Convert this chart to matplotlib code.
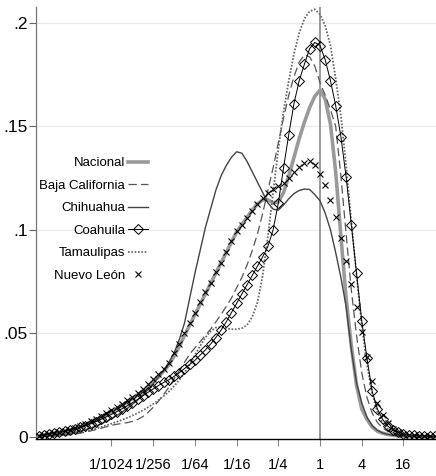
import numpy as np
import matplotlib
matplotlib.use("Agg")
import matplotlib.pyplot as plt

plt.rcParams['font.family'] = ['Liberation Sans', 'DejaVu Sans']
plt.rcParams['lines.scale_dashes'] = False

# evaluation grid, log2 of the ratio
lx = np.arange(-13.5, 5.51, 0.25)

nacional = [0.0005, 0.0009, 0.0013, 0.0018, 0.0023, 0.0028, 0.0033, 0.0040, 0.0048, 0.0058,
            0.0069, 0.0082, 0.0095, 0.0108, 0.0122, 0.0137, 0.0152, 0.0168, 0.0185, 0.0203,
            0.0222, 0.0243, 0.0266, 0.0290, 0.0318, 0.0347, 0.0390, 0.0437, 0.0490, 0.0540,
            0.0590, 0.0640, 0.0690, 0.0740, 0.0790, 0.0840, 0.0890, 0.0940, 0.0990, 0.1025,
            0.1060, 0.1095, 0.1125, 0.1145, 0.1145, 0.1130, 0.1135, 0.1180, 0.1260, 0.1350,
            0.1440, 0.1520, 0.1590, 0.1645, 0.1675, 0.1630, 0.1510, 0.1280, 0.0970, 0.0670,
            0.0440, 0.0250, 0.0135, 0.0085, 0.0048, 0.0028, 0.0018, 0.0012, 0.0008, 0.0006,
            0.0004, 0.0003, 0.0003, 0.0002, 0.0002, 0.0002, 0.0002]

baja = [0.0001, 0.0002, 0.0003, 0.0004, 0.0006, 0.0008, 0.0011, 0.0014, 0.0018, 0.0023,
        0.0029, 0.0035, 0.0042, 0.0049, 0.0056, 0.0061, 0.0065, 0.0069, 0.0075, 0.0084,
        0.0098, 0.0118, 0.0143, 0.0172, 0.0205, 0.0240, 0.0280, 0.0320, 0.0360, 0.0400,
        0.0430, 0.0460, 0.0490, 0.0520, 0.0555, 0.0590, 0.0630, 0.0670, 0.0720, 0.0770,
        0.0830, 0.0900, 0.0980, 0.1080, 0.1190, 0.1300, 0.1420, 0.1540, 0.1650, 0.1740,
        0.1810, 0.1845, 0.1835, 0.1790, 0.1710, 0.1650, 0.1580, 0.1500, 0.1260, 0.0980,
        0.0710, 0.0490, 0.0310, 0.0190, 0.0115, 0.0070, 0.0043, 0.0027, 0.0017, 0.0011,
        0.0007, 0.0005, 0.0004, 0.0003, 0.0002, 0.0002, 0.0001]

chihuahua = [0.0002, 0.0003, 0.0005, 0.0007, 0.0010, 0.0013, 0.0017, 0.0022, 0.0028, 0.0035,
             0.0043, 0.0052, 0.0063, 0.0075, 0.0088, 0.0103, 0.0119, 0.0137, 0.0157, 0.0178,
             0.0202, 0.0228, 0.0257, 0.0288, 0.0322, 0.0360, 0.0405, 0.0470, 0.0550, 0.0670,
             0.0790, 0.0900, 0.1010, 0.1100, 0.1190, 0.1260, 0.1310, 0.1350, 0.1377, 0.1370,
             0.1330, 0.1280, 0.1230, 0.1180, 0.1130, 0.1100, 0.1095, 0.1120, 0.1150, 0.1175,
             0.1190, 0.1197, 0.1195, 0.1170, 0.1140, 0.1080, 0.1000, 0.0890, 0.0770, 0.0630,
             0.0420, 0.0260, 0.0165, 0.0095, 0.0055, 0.0032, 0.0019, 0.0012, 0.0008, 0.0005,
             0.0004, 0.0003, 0.0002, 0.0002, 0.0002, 0.0001, 0.0001]

coahuila = [0.0006, 0.0009, 0.0013, 0.0017, 0.0022, 0.0027, 0.0033, 0.0040, 0.0047, 0.0055,
            0.0064, 0.0074, 0.0085, 0.0097, 0.0109, 0.0122, 0.0136, 0.0150, 0.0165, 0.0181,
            0.0198, 0.0215, 0.0232, 0.0248, 0.0263, 0.0276, 0.0292, 0.0310, 0.0330, 0.0350,
            0.0370, 0.0395, 0.0420, 0.0448, 0.0480, 0.0515, 0.0555, 0.0600, 0.0645, 0.0690,
            0.0735, 0.0780, 0.0825, 0.0870, 0.0920, 0.1000, 0.1130, 0.1300, 0.1460, 0.1610,
            0.1720, 0.1800, 0.1875, 0.1905, 0.1890, 0.1820, 0.1720, 0.1600, 0.1450, 0.1255,
            0.1025, 0.0790, 0.0560, 0.0380, 0.0220, 0.0135, 0.0085, 0.0052, 0.0033, 0.0022,
            0.0015, 0.0011, 0.0008, 0.0006, 0.0005, 0.0004, 0.0003]

tamaulipas = [0.0002, 0.0003, 0.0004, 0.0006, 0.0008, 0.0011, 0.0014, 0.0018, 0.0023, 0.0028,
              0.0034, 0.0041, 0.0048, 0.0056, 0.0064, 0.0073, 0.0082, 0.0092, 0.0103, 0.0115,
              0.0128, 0.0143, 0.0159, 0.0177, 0.0197, 0.0219, 0.0245, 0.0275, 0.0310, 0.0350,
              0.0395, 0.0440, 0.0480, 0.0510, 0.0528, 0.0530, 0.0525, 0.0520, 0.0520, 0.0525,
              0.0540, 0.0580, 0.0650, 0.0780, 0.0970, 0.1180, 0.1390, 0.1570, 0.1720, 0.1850,
              0.1950, 0.2020, 0.2055, 0.2065, 0.2040, 0.1985, 0.1890, 0.1730, 0.1550, 0.1310,
              0.1040, 0.0780, 0.0540, 0.0350, 0.0210, 0.0120, 0.0068, 0.0038, 0.0022, 0.0013,
              0.0008, 0.0005, 0.0004, 0.0003, 0.0002, 0.0002, 0.0001]

nuevo_leon = [0.0006, 0.0010, 0.0015, 0.0020, 0.0025, 0.0030, 0.0035, 0.0043, 0.0052, 0.0063,
              0.0075, 0.0088, 0.0101, 0.0115, 0.0130, 0.0145, 0.0161, 0.0177, 0.0195, 0.0213,
              0.0233, 0.0255, 0.0278, 0.0302, 0.0330, 0.0357, 0.0405, 0.0450, 0.0500, 0.0550,
              0.0600, 0.0650, 0.0700, 0.0745, 0.0795, 0.0840, 0.0895, 0.0945, 0.0995, 0.1025,
              0.1055, 0.1090, 0.1125, 0.1155, 0.1180, 0.1198, 0.1210, 0.1225, 0.1250, 0.1280,
              0.1305, 0.1325, 0.1330, 0.1312, 0.1270, 0.1215, 0.1145, 0.1060, 0.0960, 0.0850,
              0.0740, 0.0625, 0.0505, 0.0385, 0.0270, 0.0165, 0.0105, 0.0065, 0.0038, 0.0024,
              0.0016, 0.0011, 0.0008, 0.0006, 0.0005, 0.0004, 0.0003]

xticks = [-10, -8, -6, -4, -2, 0, 2, 4]
xlabels = ['1/1024', '1/256', '1/64', '1/16', '1/4', '1', '4', '16']
yticks = [0, 0.05, 0.1, 0.15, 0.2]
ylabels = ['0', '.05', '.1', '.15', '.2']

fig = plt.figure(figsize=(4.36, 4.76), dpi=100)
ax = fig.add_axes([36/436, 37/476, 400/436, 432/476])

for y in yticks[1:]:
    ax.axhline(y, color='#e4edf0', lw=0.9, zorder=0)
ax.axvline(0, color='#9a9a9a', lw=1.4, zorder=1)

ax.plot(lx, nacional, color='#9a9a9a', lw=2.6, label='Nacional', zorder=2)
ax.plot(lx, baja, color='#555555', lw=0.9, dashes=(6, 3), label='Baja California', zorder=3)
ax.plot(lx, chihuahua, color='#444444', lw=1.0, label='Chihuahua', zorder=3)
ax.plot(lx, coahuila, color='black', lw=0.7, marker='D', ms=5, mfc='none', mec='black',
        mew=0.7, label='Coahuila', zorder=4)
ax.plot(lx, tamaulipas, color='#666666', lw=1.3, dashes=(1.2, 1.2), label='Tamaulipas', zorder=3)
ax.plot(lx, nuevo_leon, ls='none', marker='x', ms=5, mew=0.8, color='black',
        label='Nuevo León', zorder=5)

ax.set_xlim(-13.62, 5.56)
ax.set_ylim(-0.001, 0.2076)
ax.set_xticks(xticks)
ax.set_xticklabels(xlabels)
ax.set_yticks(yticks)
ax.set_yticklabels(ylabels)
ax.tick_params(axis='x', length=5, color='#888888', labelsize=10.5, pad=9)
ax.tick_params(axis='y', length=5, color='#666666', labelsize=12.5, pad=1)

for s in ['top', 'right']:
    ax.spines[s].set_visible(False)
ax.spines['left'].set_color('#777777')
ax.spines['left'].set_linewidth(0.9)
ax.spines['bottom'].set_color('black')
ax.spines['bottom'].set_linewidth(1.0)

ax.legend(loc='center right', bbox_to_anchor=(0.28, 0.508), frameon=False, markerfirst=False,
          fontsize=9.5, handlelength=1.5, handletextpad=0.25, labelspacing=0.78,
          borderpad=0, borderaxespad=0)

fig.savefig('out.png', dpi=100)
